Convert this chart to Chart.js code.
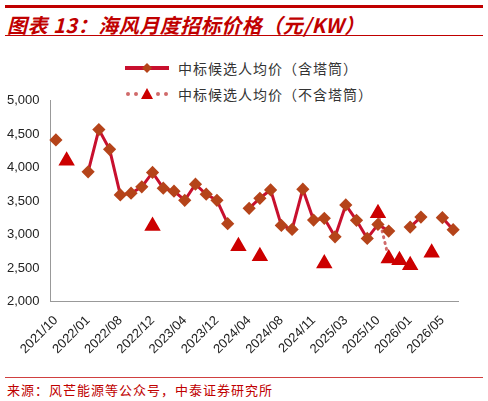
<!DOCTYPE html>
<html><head><meta charset="utf-8">
<script src="https://cdn.jsdelivr.net/npm/chart.js@4"></script>
<style>
body{margin:0;width:488px;height:401px;background:#fff;position:relative;overflow:hidden;font-family:"Liberation Sans",Arial,sans-serif}
#topline{position:absolute;left:5px;right:5px;top:5px;height:3px;background:#c00000}
#title{position:absolute;left:7px;top:10px;font:italic bold 20px "Noto Sans CJK SC",sans-serif;color:#c00000;letter-spacing:0.5px}
#tline{position:absolute;left:5px;right:5px;top:35px;height:1px;background:#c00000}
.leg{position:absolute;left:125px;font:14px "Noto Sans CJK SC",sans-serif;color:#333;height:20px}
.leg canvas{position:absolute;left:0;top:0}
.leg span{position:absolute;left:53px;top:-2px;white-space:nowrap;letter-spacing:1px}
#bline{position:absolute;left:5px;right:5px;top:377px;height:1px;background:#d04040}
#src{position:absolute;left:7px;top:380px;font:13px "Noto Sans CJK SC",sans-serif;color:#c00000;letter-spacing:1px}
#wrap{position:absolute;left:0;top:90px;width:468px;height:270px}
</style></head><body>
<div id="topline"></div>
<div id="title">图表 13：海风月度招标价格（元/KW）</div>
<div id="tline"></div>
<div class="leg" style="top:60px"><canvas id="l1" width="50" height="16"></canvas><span>中标候选人均价（含塔筒）</span></div>
<div class="leg" style="top:86px"><canvas id="l2" width="50" height="16"></canvas><span>中标候选人均价（不含塔筒）</span></div>
<div id="wrap"><canvas id="c"></canvas></div>
<div id="bline"></div>
<div id="src">来源：风芒能源等公众号，中泰证券研究所</div>
<script>
// 38 category slots; only every third carries a label in the source
const tickLabels = ['2021/10','2022/01','2022/08','2022/12','2023/04','2023/12','2024/04','2024/08','2024/11','2025/03','2025/10','2026/01','2026/05'];
const categories = [];
for (let i = 0; i < 38; i++) categories.push(i % 3 === 0 ? tickLabels[i / 3] : '');

const withTower = [4415,null,null,3940,4570,4275,3595,3620,3715,3930,3695,3650,3515,3755,3605,3515,3165,null,
  3395,3545,3670,3140,3080,3680,3220,3245,2970,3445,3215,2945,3155,3055,null,3115,3265,null,3255,3075];
const withoutTower = [null,4105,null,null,null,null,null,null,null,3130,null,null,null,null,null,null,null,2830,
  null,2680,null,null,null,null,null,2570,null,null,null,null,3320,2645,2620,2545,null,2730,null,null];

const lineRed = '#c8102e', diamond = '#b5441a', tri = '#cc0000', dotted = '#d06a6a';

// legend swatches
(function () {
  let g = document.getElementById('l1').getContext('2d');
  g.strokeStyle = lineRed; g.lineWidth = 4; g.beginPath(); g.moveTo(0, 8); g.lineTo(44, 8); g.stroke();
  g.fillStyle = diamond; g.beginPath(); g.moveTo(22, 3); g.lineTo(27, 8); g.lineTo(22, 13); g.lineTo(17, 8); g.fill();
  g = document.getElementById('l2').getContext('2d');
  g.fillStyle = dotted;
  [3, 11, 33, 41].forEach(x => { g.beginPath(); g.arc(x, 8, 2, 0, Math.PI * 2); g.fill(); });
  g.fillStyle = tri; g.beginPath(); g.moveTo(22, 2); g.lineTo(28, 13); g.lineTo(16, 13); g.fill();
})();

new Chart(document.getElementById('c'), {
  type: 'line',
  data: {
    labels: categories,
    datasets: [{
      label: '中标候选人均价（含塔筒）',
      data: withTower,
      borderColor: lineRed,
      borderWidth: 3,
      pointStyle: 'rectRot',
      pointRadius: 4.5,
      pointBackgroundColor: diamond,
      pointBorderColor: diamond,
      spanGaps: false,
      tension: 0
    }, {
      label: '中标候选人均价（不含塔筒）',
      data: withoutTower,
      borderColor: dotted,
      borderWidth: 3,
      borderDash: [1, 5],
      borderCapStyle: 'round',
      pointStyle: 'triangle',
      pointRadius: 6.5,
      pointBackgroundColor: tri,
      pointBorderColor: tri,
      spanGaps: false
    }]
  },
  options: {
    responsive: true,
    maintainAspectRatio: false,
    animation: false,
    layout: { padding: { top: 6, right: 6, left: 4 } },
    plugins: { legend: { display: false }, tooltip: { enabled: false } },
    scales: {
      y: {
        min: 2000, max: 5000,
        ticks: { stepSize: 500, color: '#222', font: { size: 13, family: 'Liberation Sans' },
          callback: v => v.toLocaleString('en-US') },
        grid: { display: false, drawTicks: true },
        border: { color: '#999', width: 1 }
      },
      x: {
        offset: true,
        ticks: { autoSkip: false, minRotation: 45, maxRotation: 45, color: '#222',
          font: { size: 13, family: 'Liberation Sans' } },
        grid: { display: false },
        border: { color: '#999', width: 1 }
      }
    }
  }
});
</script>
</body></html>
